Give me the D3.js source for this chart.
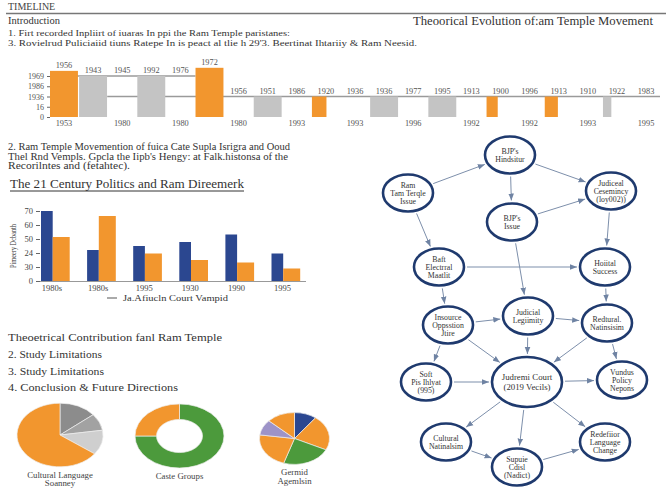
<!DOCTYPE html>
<meta charset="utf-8">
<script src="https://cdn.jsdelivr.net/npm/d3@7"></script>
<style>
  body { margin: 0; background: #fff; }
  text { font-family: "Liberation Serif", "Times New Roman", serif; fill: #333; }
</style>
<div id="chart"></div>
<script>
    // ---- timeline strip data
    var tlTop = ["1956","1943","1945","1992","1976","1972","1956","1951","1986","1920","1936",
                 "1936","1977","1995","1913","1900","1996","1913","1910","1922","1983"];
    var tlValue = [4.5, 4, null, 4, null, 4.8, null, 2, null, 2, null, 2, null, 2, null, 2, null, 2, null, 2, null];
    var tlKind  = ["o","g",null,"g",null,"o",null,"g",null,"o",null,"g",null,"g",null,"o",null,"o",null,"g",null];
    var tlShare = [1, 1, 0, 1, 0, 1, 0, 1, 0, 0.52, 0, 1, 0, 1, 0, 0.4, 0, 0.47, 0, 0.3, 0];
    var tlLevel = [4, 4, 4, 4, 4, 4, 2, 2, 2, 2, 2, 2, 2, 2, 2, 2, 2, 2, 2, 2, 2];
    var tlBottom = ["1953","1980","1980","1980","1993","1993","1996","1992","1992","1993","1995"];
    var tlTicks = ["0","16","1936","1986","1969"];

    // ---- grouped bar chart data
    var barCats = ["1980s","1980s","1995","1930","1990","1995"];
    var barBlue = [70, 31, 35, 39, 46.5, 27.5];
    var barOrange = [44, 65, 27.5, 21, 18.5, 12.5];
    var barTickVals = [0, 14, 28, 42, 56, 70];
    var barTickLabels = ["0","30","24","50","60","70"];

    // ---- pies
    var pieA = [14, 8.6, 12.5, 64.9];
    var pieB = [75, 25];
    var pieC = [37, 79, 82, 80, 35, 47];

    // ---- texts
    var introLines = ["1. Firt recorded Inpliirt of iuaras In ppi the Ram Temple paristanes:",
                      "3. Rovielrud Puliciaiid tiuns Ratepe In is peact al tlie h 29'3. Beertinat Ihtariiy & Ram Neesid."];
    var sec2Lines = ["2. Ram Temple Movemention of fuica Cate Supla Isrigra and Ooud",
                     "Thel Rnd Vempls. Gpcla the Iipb's Hengy: at Falk.histonsa of the",
                     "Recorilntes and (fetahtec)."];
    var sec4Lines = ["2. Study Limitations", "3. Study Limitations", "4. Conclusion & Future Directions"];

    // ---- network
    var nodes = [
        {id: "hind", lines: ["BJP's","Hindsitur"], gx: 11.0, gy: 0.5},
        {id: "ram", lines: ["Ram","Tam Terqle","Issue"], gx: 0.8, gy: 4.3},
        {id: "jud", lines: ["Judiceal","Cesemincy","(loy002))"], gx: 21.1, gy: 4.1},
        {id: "bjp", lines: ["BJP's","Issue"], gx: 11.2, gy: 7.2},
        {id: "baft", lines: ["Baft","Electrral","Maatlit"], gx: 3.9, gy: 11.7},
        {id: "hoi", lines: ["Hoiital","Success"], gx: 20.5, gy: 11.7},
        {id: "leg", lines: ["Judicial","Legiimity"], gx: 12.8, gy: 16.6},
        {id: "ins", lines: ["Insource","Oppsstion","Jtire"], gx: 4.8, gy: 17.5},
        {id: "red", lines: ["Redtural.","Natinsisim"], gx: 20.7, gy: 17.3},
        {id: "soft", lines: ["Soft","Pis Ihlyat","(995)"], gx: 2.6, gy: 23.2},
        {id: "court", lines: ["Judremi Court","(2019 Vecils)"], gx: 12.7, gy: 23.2, big: true},
        {id: "vun", lines: ["Vundus","Policy","Nepons"], gx: 22.2, gy: 23.0},
        {id: "cul", lines: ["Cultural","Natinalsim"], gx: 4.6, gy: 29.2},
        {id: "sup", lines: ["Supuie","Cdisl","(Nadict)"], gx: 11.7, gy: 31.7},
        {id: "rede", lines: ["Redefiior","Language","Change"], gx: 20.5, gy: 29.2}
    ];
    var links = [
        ["ram","hind"], ["hind","jud"], ["hind","bjp"], ["bjp","jud"], ["ram","baft"],
        ["jud","hoi"], ["baft","hoi"], ["bjp","leg"], ["baft","ins"], ["hoi","red"],
        ["ins","leg"], ["leg","red"], ["leg","court"], ["ins","court"], ["red","court"],
        ["ins","soft"], ["red","vun"], ["soft","court"], ["court","vun"], ["court","cul"],
        ["court","sup"], ["court","rede"], ["cul","sup"], ["sup","rede"]
    ];

    var orange = "#f2962e", grey = "#c4c4c4", navy = "#2b4790";

    var svg = d3.select("#chart").append("svg")
        .attr("width", 666).attr("height", 490);

    // header
    svg.append("text").attr("x", 8).attr("y", 10).style("font-size", "10px").style("fill", "#444").text("TIMELINE");
    svg.append("line").attr("x1", 6).attr("x2", 666).attr("y1", 13.5).attr("y2", 13.5)
        .style("stroke", "#777").style("stroke-width", 1.3);
    svg.append("text").attr("x", 8).attr("y", 24).style("font-size", "10.5px").text("Introduction");
    svg.append("text").attr("x", 653).attr("y", 25).attr("text-anchor", "end").style("font-size", "12.5px")
        .attr("textLength", 240).attr("lengthAdjust", "spacingAndGlyphs")
        .text("Theoorical Evolution of:am Temple Movement");
    var introW = [282, 409];
    svg.selectAll(".intro").data(introLines).enter().append("text")
        .attr("x", 8).attr("y", function(d, i) { return 36 + i * 10; })
        .attr("textLength", function(d, i) { return introW[i]; }).attr("lengthAdjust", "spacingAndGlyphs")
        .style("font-size", "9px").text(function(d) { return d; });

    // ---- timeline
    var tx = d3.scaleBand().domain(d3.range(tlTop.length)).range([50, 660]).paddingInner(0.04);
    var ty = d3.scaleLinear().domain([0, 4]).range([117, 76]);
    var tl = svg.append("g");

    tl.append("line").attr("x1", 50).attr("x2", tx(5))
        .attr("y1", ty(4)).attr("y2", ty(4)).style("stroke", "#9a9a9a").style("stroke-width", 1.3);
    tl.append("line").attr("x1", tx(2) - 1).attr("x2", 660)
        .attr("y1", ty(2)).attr("y2", ty(2)).style("stroke", "#9a9a9a").style("stroke-width", 1.3);

    tlValue.forEach(function(v, i) {
        if (v == null) return;
        tl.append("rect")
            .attr("x", tx(i))
            .attr("y", ty(v))
            .attr("width", tx.bandwidth() * tlShare[i])
            .attr("height", ty(0) - ty(v))
            .style("fill", tlKind[i] == "o" ? orange : grey);
    });

    tl.selectAll(".toplab").data(tlTop).enter().append("text")
        .attr("x", function(d, i) { return tx(i) + tx.bandwidth() / 2; })
        .attr("y", function(d, i) { return ty(Math.max(tlValue[i] || 0, tlLevel[i])) - 3; })
        .attr("text-anchor", "middle").style("font-size", "8.3px").style("fill", "#555")
        .text(function(d) { return d; });

    tl.selectAll(".botlab").data(tlBottom).enter().append("text")
        .attr("x", function(d, i) { return tx(i * 2) + tx.bandwidth() / 2; })
        .attr("y", 126)
        .attr("text-anchor", "middle").style("font-size", "8.3px").style("fill", "#555")
        .text(function(d) { return d; });

    var tya = tl.append("g").attr("transform", "translate(50,0)")
        .call(d3.axisLeft(ty).tickValues(d3.range(5)).tickSize(3)
            .tickFormat(function(d) { return tlTicks[d]; }));
    tya.select(".domain").remove();
    tya.selectAll("line").style("stroke", "#666");
    tya.selectAll("text").style("font-family", "Liberation Serif").style("font-size", "8px").style("fill", "#555");

    // ---- section 2 text
    var sec2W = [282, 280, 122];
    svg.selectAll(".sec2").data(sec2Lines).enter().append("text")
        .attr("x", 8).attr("y", function(d, i) { return 150 + i * 9.5; })
        .attr("textLength", function(d, i) { return sec2W[i]; }).attr("lengthAdjust", "spacingAndGlyphs")
        .style("font-size", "10px").text(function(d) { return d; });
    svg.append("text").attr("x", 10).attr("y", 188).style("font-size", "12.6px")
        .attr("textLength", 234).attr("lengthAdjust", "spacingAndGlyphs")
        .text("The  21 Century Politics and Ram Direemerk");
    svg.append("line").attr("x1", 10).attr("x2", 244).attr("y1", 191).attr("y2", 191)
        .style("stroke", "#333").style("stroke-width", 1);

    // ---- grouped bars
    var bx = d3.scaleBand().domain(d3.range(barCats.length)).range([41, 41 + 46.1 * 6]);
    var by = d3.scaleLinear().domain([0, 70]).range([281, 211]);
    var bars = svg.append("g");
    bars.selectAll(".blue").data(barBlue).enter().append("rect")
        .attr("x", function(d, i) { return bx(i); })
        .attr("y", function(d) { return by(d); })
        .attr("width", 11.7)
        .attr("height", function(d) { return by(0) - by(d); })
        .style("fill", navy);
    bars.selectAll(".orange").data(barOrange).enter().append("rect")
        .attr("x", function(d, i) { return bx(i) + 11.7; })
        .attr("y", function(d) { return by(d); })
        .attr("width", 17)
        .attr("height", function(d) { return by(0) - by(d); })
        .style("fill", orange);
    bars.append("line").attr("x1", 37).attr("x2", 306).attr("y1", by(0) + 0.5).attr("y2", by(0) + 0.5)
        .style("stroke", "#999").style("stroke-width", 1);
    bars.selectAll(".cat").data(barCats).enter().append("text")
        .attr("x", function(d, i) { return bx(i) + 11; })
        .attr("y", 291)
        .attr("text-anchor", "middle").style("font-size", "8.5px").style("fill", "#444")
        .text(function(d) { return d; });
    var bya = bars.append("g").attr("transform", "translate(40,0)")
        .call(d3.axisLeft(by).tickValues(barTickVals).tickSize(4)
            .tickFormat(function(d, i) { return barTickLabels[i]; }));
    bya.select(".domain").remove();
    bya.selectAll("line").style("stroke", "#666");
    bya.selectAll("text").style("font-family", "Liberation Serif").style("font-size", "8.5px").style("fill", "#444");
    bars.append("text").attr("transform", "translate(16,246) rotate(-90)")
        .attr("text-anchor", "middle").style("font-size", "8.5px")
        .attr("textLength", 44).attr("lengthAdjust", "spacingAndGlyphs")
        .text("Pimeery Dcbanth");
    bars.append("line").attr("x1", 107).attr("x2", 117).attr("y1", 298).attr("y2", 298)
        .style("stroke", "#aaa").style("stroke-width", 2);
    bars.append("text").attr("x", 123).attr("y", 301).style("font-size", "9px")
        .attr("textLength", 105).attr("lengthAdjust", "spacingAndGlyphs")
        .text("Ja.Afiucln Court Vampid");

    // ---- section 4 text
    svg.append("text").attr("x", 8).attr("y", 341).style("font-size", "11px")
        .attr("textLength", 214).attr("lengthAdjust", "spacingAndGlyphs")
        .text("Theoetrical Contribution fanl Ram Temple");
    var sec4W = [94, 96, 170];
    svg.selectAll(".sec4").data(sec4Lines).enter().append("text")
        .attr("x", 8).attr("y", function(d, i) { return 358 + i * 16.5; })
        .attr("textLength", function(d, i) { return sec4W[i]; }).attr("lengthAdjust", "spacingAndGlyphs")
        .style("font-size", "11px").text(function(d) { return d; });

    // ---- pies
    function drawPie(values, colors, cx, cy, r, inner, sy, labels) {
        var g = svg.append("g").attr("transform", "translate(" + cx + "," + cy + ") scale(1," + sy + ")");
        var arcs = d3.pie().sort(null)(values);
        g.selectAll("path").data(arcs).enter().append("path")
            .attr("d", d3.arc().innerRadius(inner).outerRadius(r))
            .style("fill", function(d, i) { return colors[i]; })
            .style("stroke", "#eee").style("stroke-width", 0.8);
        svg.selectAll(null).data(labels).enter().append("text")
            .attr("x", cx).attr("y", function(d, i) { return cy + r * sy + 11 + i * 8.5; })
            .attr("text-anchor", "middle").style("font-size", "8.8px").style("fill", "#444")
            .text(function(d) { return d; });
    }
    drawPie(pieA, ["#8c8c8c", "#a2a2a2", "#cfcfcf", orange], 60, 435, 43, 0, 0.74,
        ["Cultural Language", "Soanney"]);
    drawPie(pieB, ["#4c9a3c", orange], 179.5, 436, 44.5, 23, 0.72, ["Caste Groups"]);
    drawPie(pieC, [navy, orange, "#4c9a3c", orange, "#9d93c8", orange], 294.5, 438.5, 35, 0, 0.74,
        ["Germid", "Agemlsin"]);

    // ---- network diagram
    var nx = d3.scaleLinear().domain([0, 1]).range([400, 410]);
    var ny = d3.scaleLinear().domain([0, 1]).range([150, 160]);
    var byId = {};
    nodes.forEach(function(n) {
        n.x = nx(n.gx); n.y = ny(n.gy);
        n.rx = n.big ? 35 : 25; n.ry = n.big ? 25 : 18.5;
        byId[n.id] = n;
    });

    svg.append("defs").append("marker")
        .attr("id", "arr").attr("viewBox", "0 -4 8 8").attr("refX", 8).attr("refY", 0)
        .attr("markerUnits", "userSpaceOnUse").attr("markerWidth", 7).attr("markerHeight", 7)
        .attr("orient", "auto")
        .append("path").attr("d", "M0,-3.2L8,0L0,3.2Z").style("fill", "#6f83a3");

    function edgePt(n, dx, dy, gap) {
        var t = 1 / Math.sqrt((dx / (n.rx + gap)) * (dx / (n.rx + gap)) + (dy / (n.ry + gap)) * (dy / (n.ry + gap)));
        return [n.x + dx * t, n.y + dy * t];
    }
    svg.append("g").selectAll("line").data(links).enter().append("line")
        .each(function(l) {
            var a = byId[l[0]], b = byId[l[1]];
            var dx = b.x - a.x, dy = b.y - a.y;
            var p = edgePt(a, dx, dy, 3), q = edgePt(b, -dx, -dy, 3);
            d3.select(this).attr("x1", p[0]).attr("y1", p[1]).attr("x2", q[0]).attr("y2", q[1]);
        })
        .style("stroke", "#7d8fab").style("stroke-width", 1)
        .attr("marker-end", "url(#arr)");

    var ng = svg.append("g").selectAll("g").data(nodes).enter().append("g")
        .attr("transform", function(d) { return "translate(" + d.x + "," + d.y + ")"; });
    ng.append("ellipse")
        .attr("rx", function(d) { return d.rx; }).attr("ry", function(d) { return d.ry; })
        .style("fill", "#fff").style("stroke", "#1f3a6e").style("stroke-width", 2.6);
    ng.each(function(d) {
        var fs = d.big ? 8.8 : 7.8, lh = d.big ? 10 : 8;
        var y0 = -(d.lines.length - 1) * lh / 2;
        d3.select(this).selectAll("text").data(d.lines).enter().append("text")
            .attr("y", function(s, i) { return y0 + i * lh + fs * 0.35; })
            .attr("text-anchor", "middle").style("font-size", fs + "px").style("fill", "#333")
            .text(function(s) { return s; });
    });
</script>
